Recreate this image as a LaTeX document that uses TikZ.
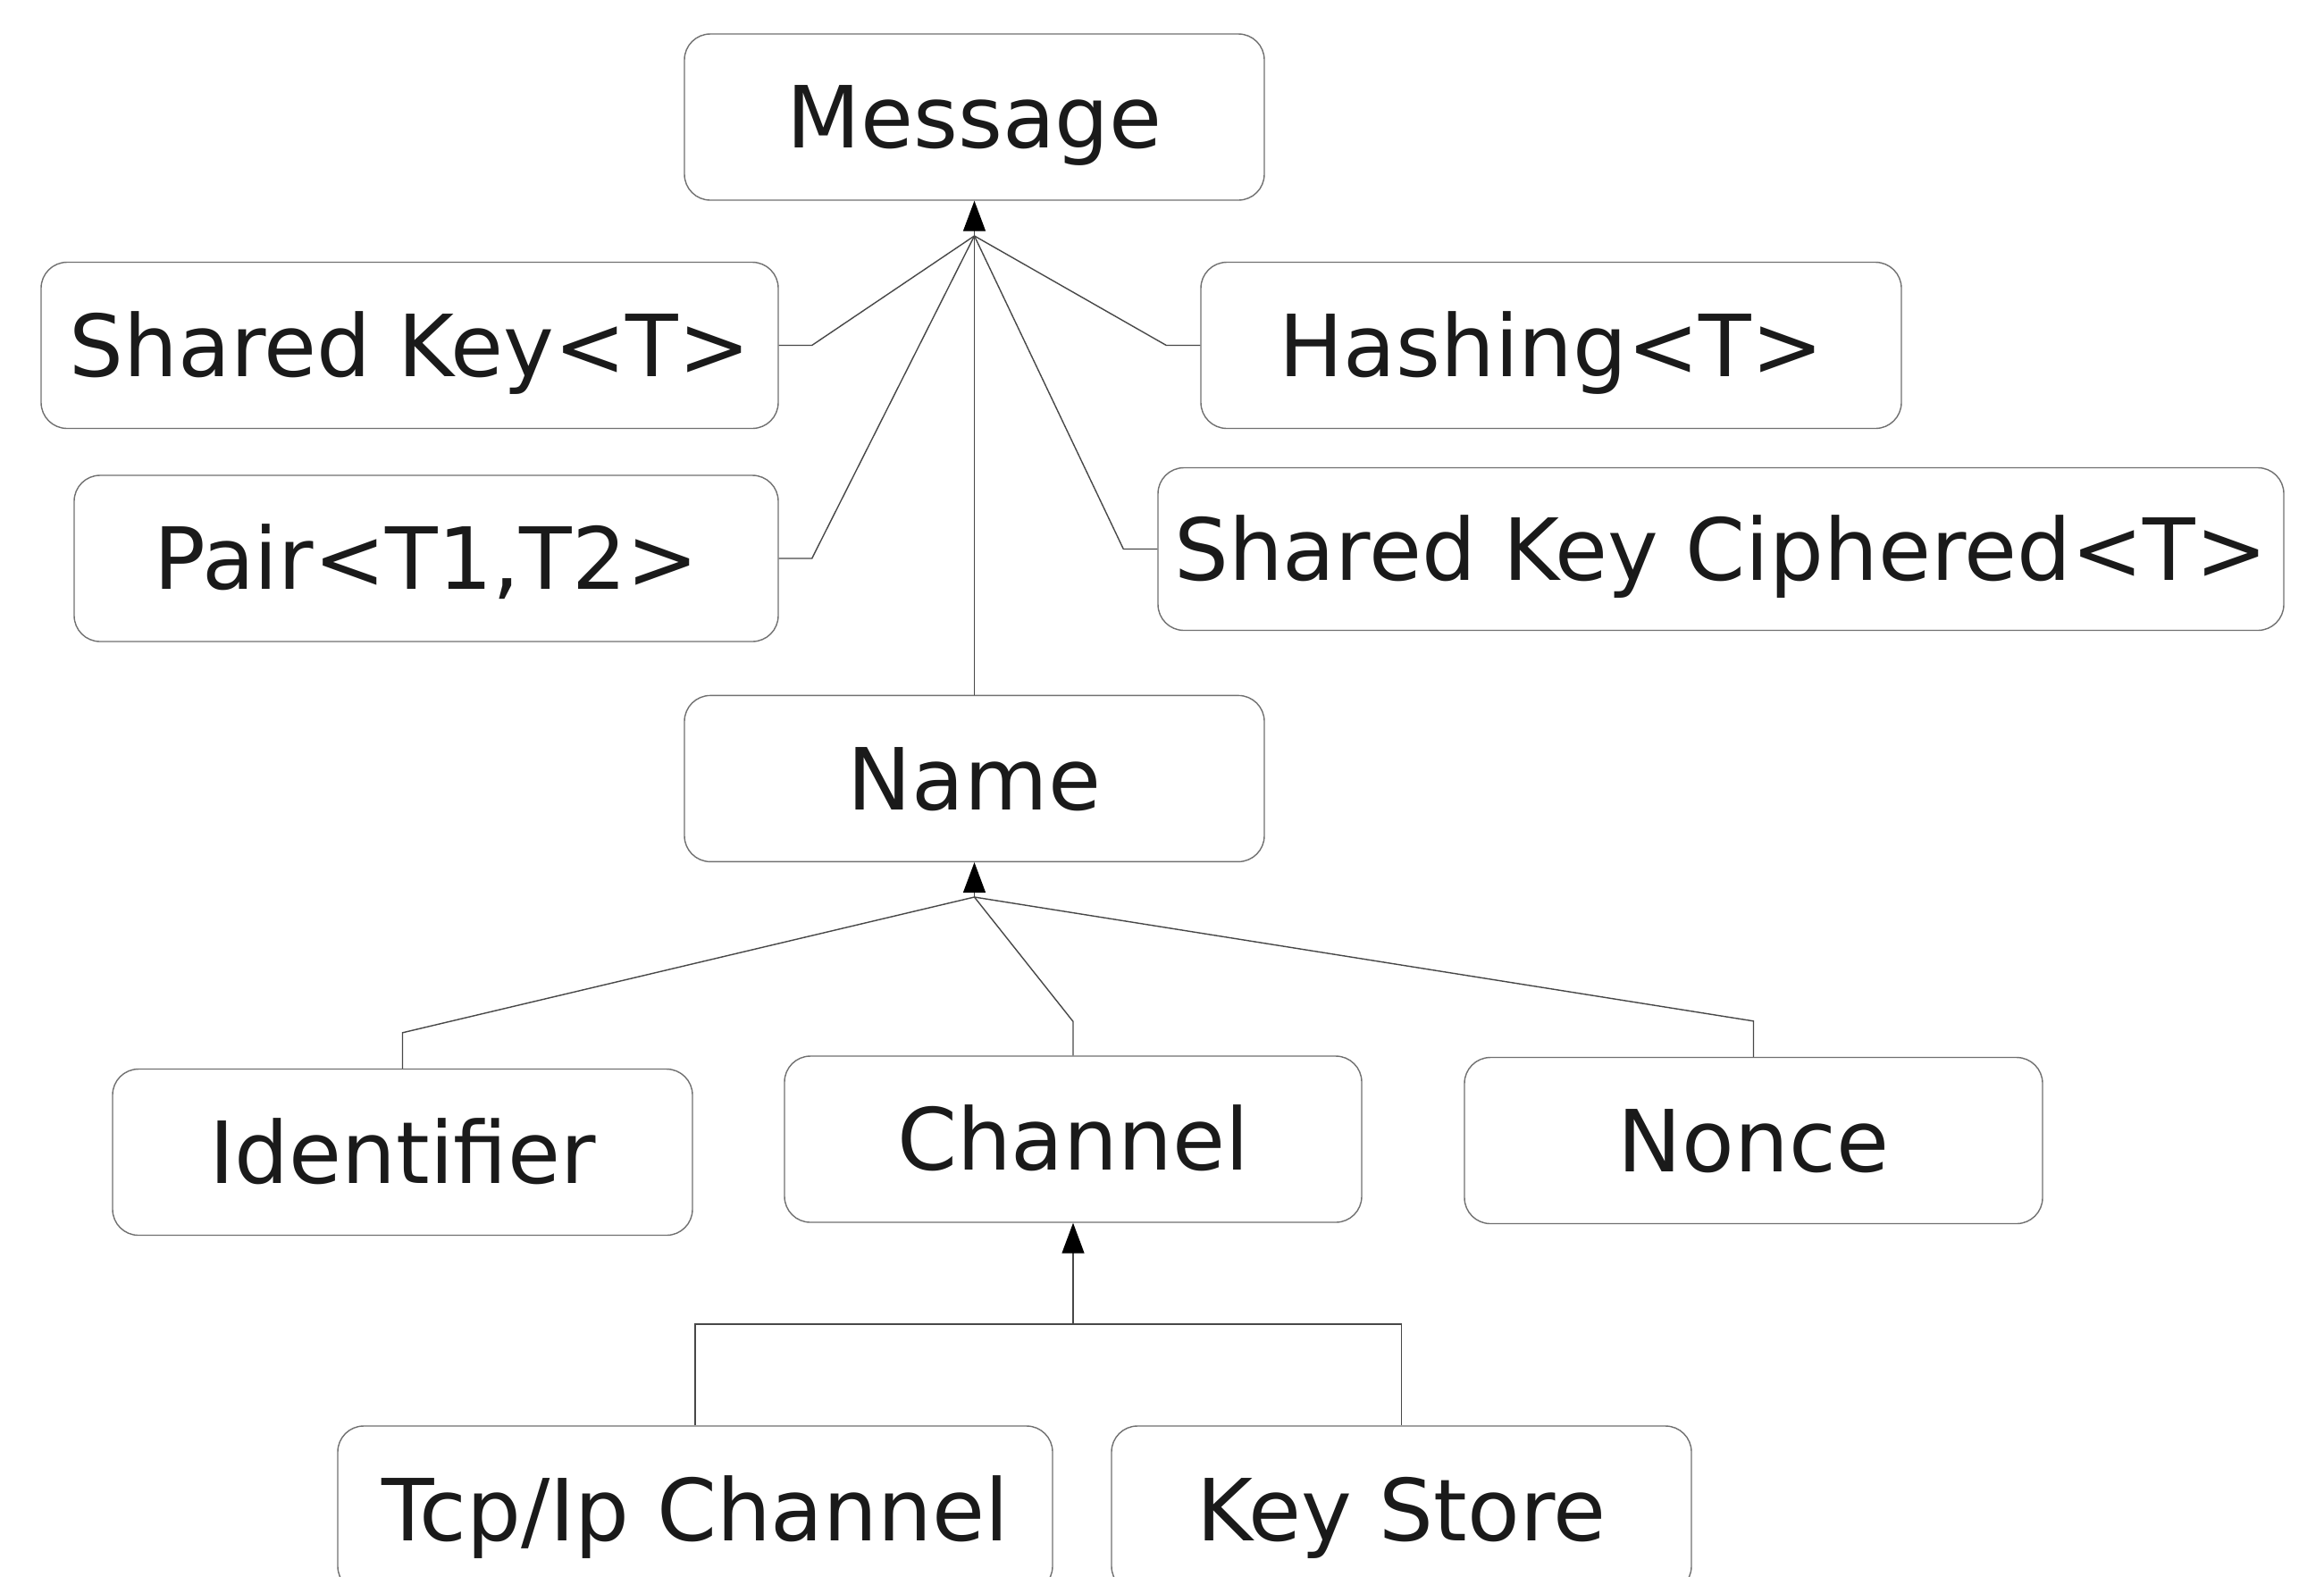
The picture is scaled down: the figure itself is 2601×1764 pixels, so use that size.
\documentclass[tikz,border=0pt]{standalone}
\usepackage{fontspec}
\setmainfont{DejaVu Sans}
\usetikzlibrary{arrows.meta,positioning}

\definecolor{boxgray}{HTML}{707070}
\definecolor{linkgray}{HTML}{484848}
\definecolor{textgray}{HTML}{1A1A1A}

\begin{document}
\begin{tikzpicture}[
    x=0.1mm, y=-0.1mm,
    every node/.style={font=\fontsize{27.3}{32}\selectfont, text=textgray, align=center},
    cls/.style={draw=boxgray, line width=0.4pt, rounded corners=2.9mm, minimum height=1.86cm,
                inner sep=0pt, text height=19.9pt, text depth=0pt},
    link/.style={draw=linkgray, line width=0.4pt},
    inherit/.style={link, -{Triangle[length=3.4mm, width=2.5mm, black]}}
]
\useasboundingbox (0,0) rectangle (2601,1764);
\clip (0,0) rectangle (2601,1764);

% class boxes
\node[cls, minimum width=6.49cm] (message) at (1090.5,131) {Message};
\node[cls, minimum width=8.25cm] (sharedkey) at (458.5,386.5) {Shared Key<T>};
\node[cls, minimum width=7.84cm] (hashing) at (1736,386.5) {Hashing<T>};
\node[cls, minimum width=7.88cm] (pair) at (477,625) {Pair<T1,T2>};
\node[cls, minimum width=12.6cm, minimum height=1.82cm] (ciphered) at (1926,614.5) {Shared Key Ciphered<T>};
\node[cls, minimum width=6.49cm, below=5.53cm of message] (name) {Name};
\node[cls, minimum width=6.49cm] (identifier) at (450.5,1289.5) {Identifier};
\node[cls, minimum width=6.46cm] (channel) at (1201,1275) {Channel};
\node[cls, minimum width=6.47cm] (nonce) at (1962.5,1276.5) {Nonce};
\node[cls, minimum width=8.00cm] (tcpip) at (778,1689) {Tcp/Ip Channel};
\node[cls, minimum width=6.49cm] (keystore) at (1568.5,1689) {Key Store};

% junction points
\coordinate (msghub) at (1090.5,264);
\coordinate (namehub) at (1090.5,1004);
\coordinate (chanbar) at (1201,1482);

% subclasses of Message
\draw[inherit] (msghub) -- (message.south);
\draw[link] (sharedkey.east) -- ++(37,0) -- (msghub);
\draw[link] (pair.east) -- ++(37,0) -- (msghub);
\draw[link] (hashing.west) -- ++(-38,0) -- (msghub);
\draw[link] (ciphered.west) -- ++(-38,0) -- (msghub);
\draw[link] (name.north) -- (msghub);

% subclasses of Name
\draw[inherit] (namehub) -- (name.south);
\draw[link] (identifier.north) -- ++(0,-40) -- (namehub);
\draw[link] (channel.north) -- ++(0,-38) -- (namehub);
\draw[link] (nonce.north) -- ++(0,-40) -- (namehub);

% subclasses of Channel
\draw[inherit] (chanbar) -- (channel.south);
\draw[link] (tcpip.north) |- (chanbar);
\draw[link] (keystore.north) |- (chanbar);
\end{tikzpicture}
\end{document}
